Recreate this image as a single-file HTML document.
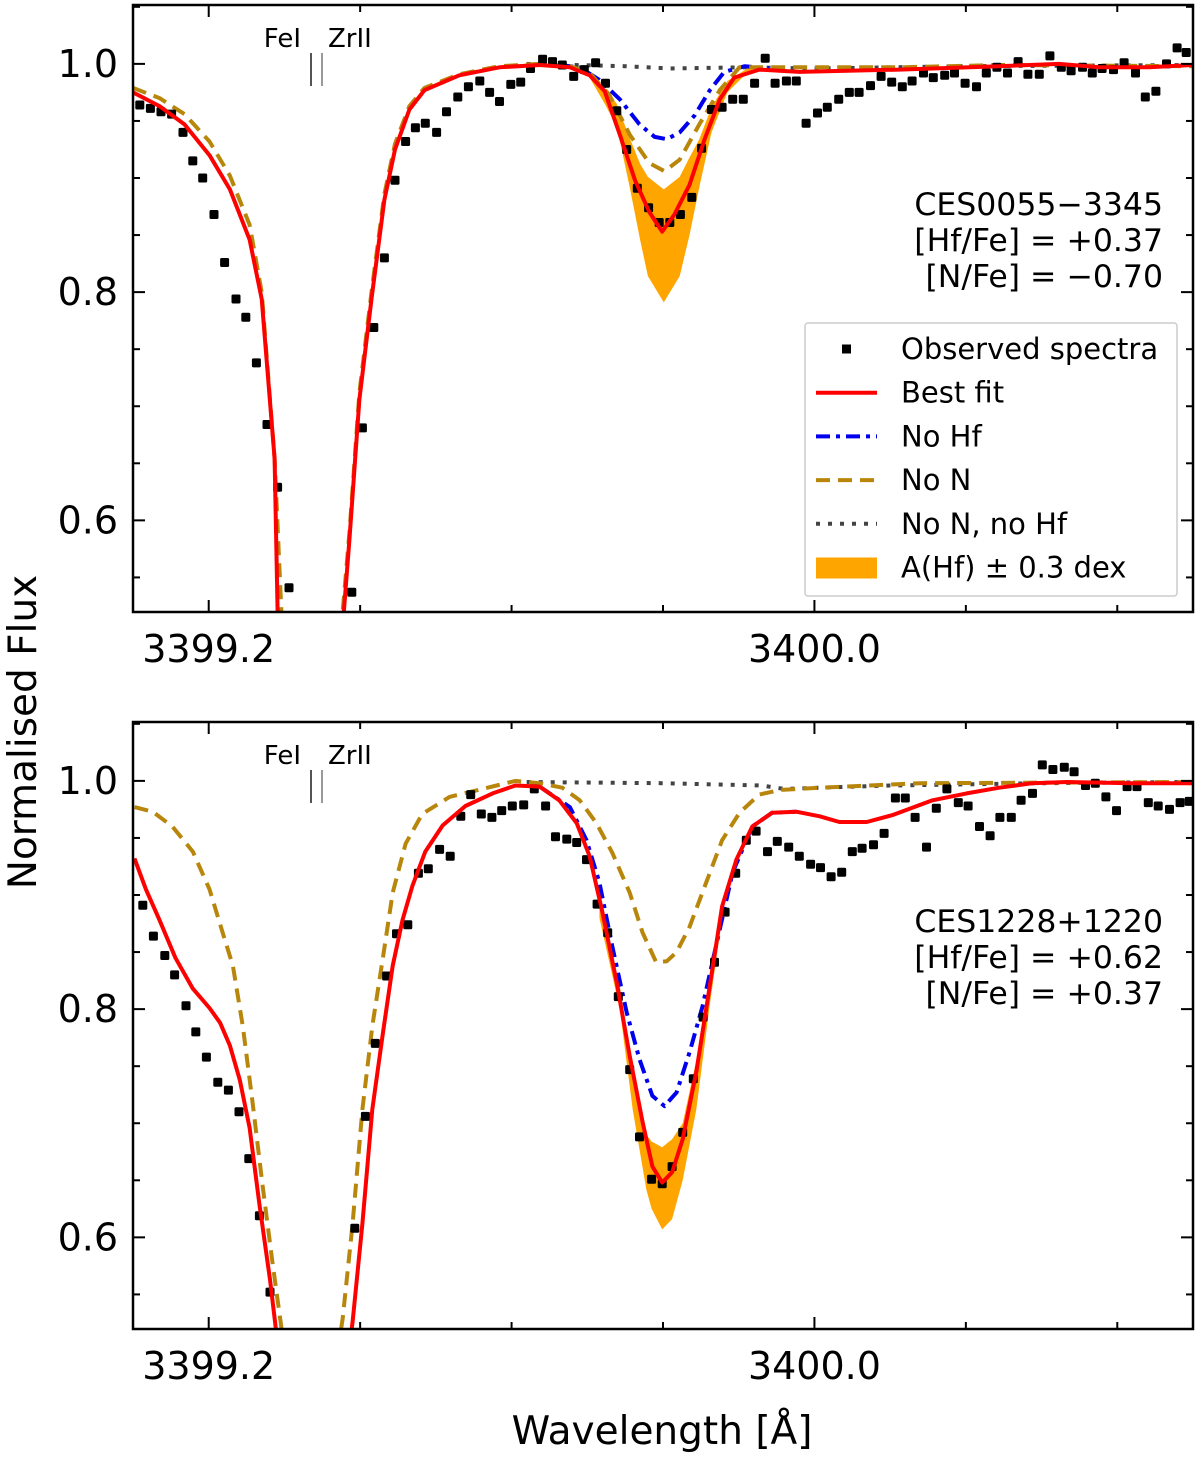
<!DOCTYPE html>
<html><head><meta charset="utf-8"><style>
html,body{margin:0;padding:0;background:#fff;}
svg{display:block;font-family:"DejaVu Sans","Liberation Sans",sans-serif;}
</style></head><body>
<svg id="fig" width="1200" height="1458" viewBox="0 0 1200 1458" xmlns="http://www.w3.org/2000/svg">
<text x="0" y="0" transform="translate(36,732) rotate(-90)" text-anchor="middle" font-size="39">Normalised Flux</text>
<text x="662" y="1444" text-anchor="middle" font-size="39">Wavelength [Å]</text>
</svg>
<script>
// ---------- Top panel (CES0055-3345) ----------
const topObsWl=[3399.109,3399.123,3399.137,3399.151,3399.166,3399.179,3399.192,3399.207,3399.221,3399.236,3399.249,3399.263,3399.277,3399.291,3399.306,3399.389,3399.403,3399.418,3399.432,3399.446,3399.460,3399.473,3399.486,3399.501,3399.514,3399.529,3399.543,3399.558,3399.571,3399.584,3399.599,3399.612,3399.625,3399.641,3399.654,3399.667,3399.682,3399.696,3399.711,3399.724,3399.739,3399.752,3399.766,3399.781,3399.795,3399.809,3399.823,3399.838,3399.851,3399.864,3399.878,3399.892,3399.906,3399.921,3399.935,3399.948,3399.963,3399.976,3399.989,3400.004,3400.017,3400.032,3400.046,3400.059,3400.074,3400.088,3400.102,3400.116,3400.129,3400.144,3400.157,3400.172,3400.185,3400.199,3400.214,3400.227,3400.241,3400.255,3400.269,3400.282,3400.297,3400.311,3400.326,3400.339,3400.354,3400.367,3400.380,3400.395,3400.409,3400.424,3400.437,3400.451,3400.465,3400.479,3400.491];
const topObsFlux=[0.964,0.961,0.958,0.956,0.940,0.915,0.900,0.868,0.826,0.794,0.778,0.738,0.684,0.629,0.541,0.537,0.681,0.769,0.830,0.898,0.932,0.944,0.948,0.940,0.958,0.971,0.980,0.985,0.975,0.967,0.982,0.984,0.996,1.004,1.002,0.999,0.989,0.995,1.001,0.983,0.959,0.925,0.891,0.874,0.861,0.861,0.868,0.883,0.926,0.960,0.962,0.969,0.969,0.983,1.005,0.983,0.985,0.985,0.948,0.957,0.962,0.969,0.975,0.975,0.981,0.989,0.984,0.980,0.985,0.992,0.988,0.990,0.992,0.983,0.980,0.992,0.997,0.992,1.002,0.991,0.991,1.007,0.997,0.994,0.997,0.992,0.996,0.995,1.001,0.992,0.971,0.976,1.000,1.014,1.010];
const topFitWl=[3399.100,3399.135,3399.168,3399.201,3399.228,3399.254,3399.270,3399.287,3399.291,3399.296,3399.375,3399.386,3399.399,3399.415,3399.432,3399.446,3399.465,3399.485,3399.531,3399.584,3399.637,3399.677,3399.703,3399.723,3399.743,3399.763,3399.782,3399.799,3399.815,3399.835,3399.855,3399.875,3399.894,3399.927,3399.980,3400.112,3400.244,3400.323,3400.376,3400.442,3400.499];
const topFitFlux=[0.975,0.963,0.947,0.920,0.890,0.846,0.794,0.654,0.520,0.490,0.490,0.584,0.706,0.794,0.881,0.925,0.960,0.977,0.990,0.997,0.999,0.997,0.990,0.976,0.938,0.898,0.870,0.853,0.868,0.894,0.934,0.969,0.988,0.995,0.993,0.995,0.998,1.000,0.997,0.997,0.999];
const topNoNWl=[3399.100,3399.135,3399.168,3399.201,3399.228,3399.254,3399.270,3399.287,3399.298,3399.373,3399.386,3399.399,3399.415,3399.432,3399.446,3399.465,3399.485,3399.531,3399.584,3399.637,3399.677,3399.703,3399.729,3399.756,3399.782,3399.802,3399.822,3399.848,3399.875,3399.901,3399.980,3400.112,3400.244,3400.499];
const topNoNFlux=[0.979,0.970,0.956,0.932,0.902,0.859,0.800,0.654,0.490,0.490,0.590,0.712,0.800,0.886,0.930,0.963,0.979,0.991,0.998,1.000,0.998,0.992,0.973,0.938,0.913,0.906,0.916,0.947,0.977,0.997,0.997,0.997,0.999,0.998];
const topNoHfWl=[3399.663,3399.690,3399.716,3399.743,3399.769,3399.789,3399.805,3399.822,3399.842,3399.862,3399.881,3399.908,3399.940];
const topNoHfFlux=[0.999,0.997,0.986,0.969,0.947,0.936,0.934,0.940,0.955,0.977,0.993,0.998,0.996];
const topNoneWl=[3399.620,3399.750,3399.810,3399.910,3400.000,3400.200,3400.499];
const topNoneFlux=[1.000,0.998,0.996,0.997,0.996,0.998,0.999];
const topBandWl=[3399.683,3399.703,3399.723,3399.739,3399.756,3399.770,3399.780,3399.801,3399.822,3399.835,3399.848,3399.864,3399.885,3399.914,3399.927];
const topBandHi=[0.998,0.992,0.978,0.965,0.935,0.912,0.901,0.890,0.901,0.918,0.934,0.962,0.985,0.997,0.998];
const topBandLo=[0.998,0.988,0.965,0.945,0.892,0.845,0.814,0.791,0.814,0.850,0.892,0.940,0.975,0.994,0.997];
const topLabels=["CES0055−3345","[Hf/Fe] = +0.37","[N/Fe] = −0.70"];

// ---------- Bottom panel (CES1228+1220) ----------
const botObsWl=[3399.113,3399.127,3399.142,3399.155,3399.170,3399.183,3399.197,3399.212,3399.226,3399.240,3399.253,3399.267,3399.281,3399.393,3399.407,3399.420,3399.435,3399.448,3399.463,3399.477,3399.490,3399.505,3399.519,3399.533,3399.546,3399.560,3399.574,3399.587,3399.601,3399.616,3399.630,3399.645,3399.658,3399.673,3399.686,3399.699,3399.713,3399.727,3399.741,3399.756,3399.769,3399.785,3399.799,3399.812,3399.826,3399.840,3399.853,3399.868,3399.882,3399.896,3399.910,3399.923,3399.938,3399.951,3399.966,3399.980,3399.995,3400.008,3400.022,3400.036,3400.050,3400.063,3400.078,3400.092,3400.107,3400.120,3400.133,3400.148,3400.161,3400.175,3400.190,3400.203,3400.218,3400.232,3400.245,3400.260,3400.273,3400.288,3400.301,3400.315,3400.330,3400.343,3400.358,3400.371,3400.385,3400.399,3400.413,3400.426,3400.441,3400.454,3400.469,3400.483,3400.495];
const botObsFlux=[0.891,0.864,0.847,0.830,0.803,0.780,0.758,0.736,0.729,0.710,0.669,0.619,0.552,0.608,0.706,0.770,0.829,0.866,0.874,0.919,0.923,0.940,0.934,0.969,0.988,0.971,0.968,0.974,0.978,0.979,0.993,0.978,0.951,0.949,0.946,0.931,0.892,0.867,0.811,0.747,0.688,0.651,0.647,0.662,0.692,0.739,0.793,0.841,0.885,0.919,0.948,0.956,0.938,0.947,0.942,0.934,0.927,0.924,0.916,0.920,0.938,0.941,0.944,0.954,0.985,0.985,0.968,0.942,0.976,0.993,0.981,0.978,0.960,0.952,0.968,0.968,0.983,0.989,1.014,1.010,1.012,1.008,0.996,0.998,0.986,0.974,0.995,0.995,0.981,0.978,0.975,0.981,0.982];
const botFitWl=[3399.102,3399.117,3399.135,3399.156,3399.179,3399.201,3399.215,3399.228,3399.241,3399.254,3399.267,3399.281,3399.288,3399.294,3399.383,3399.390,3399.403,3399.416,3399.430,3399.443,3399.456,3399.469,3399.486,3399.509,3399.539,3399.575,3399.605,3399.637,3399.663,3399.686,3399.703,3399.720,3399.739,3399.756,3399.773,3399.786,3399.799,3399.812,3399.826,3399.844,3399.861,3399.878,3399.897,3399.918,3399.944,3399.976,3400.007,3400.033,3400.069,3400.103,3400.156,3400.201,3400.244,3400.288,3400.333,3400.420,3400.499];
const botFitFlux=[0.932,0.905,0.878,0.845,0.818,0.801,0.788,0.768,0.738,0.696,0.629,0.563,0.524,0.490,0.490,0.526,0.612,0.712,0.779,0.838,0.878,0.908,0.938,0.961,0.978,0.989,0.996,0.995,0.983,0.963,0.934,0.885,0.823,0.759,0.701,0.662,0.648,0.657,0.686,0.745,0.817,0.890,0.931,0.960,0.972,0.973,0.969,0.964,0.964,0.970,0.983,0.989,0.994,0.998,0.999,0.998,0.998];
const botNoNWl=[3399.102,3399.126,3399.152,3399.179,3399.201,3399.218,3399.232,3399.245,3399.258,3399.271,3399.284,3399.295,3399.302,3399.368,3399.377,3399.390,3399.403,3399.416,3399.430,3399.443,3399.460,3399.482,3399.518,3399.562,3399.605,3399.637,3399.667,3399.690,3399.712,3399.733,3399.756,3399.773,3399.791,3399.805,3399.818,3399.835,3399.857,3399.878,3399.901,3399.927,3399.954,3400.007,3400.139,3400.499];
const botNoNFlux=[0.977,0.973,0.960,0.938,0.905,0.868,0.838,0.785,0.718,0.646,0.579,0.526,0.490,0.490,0.529,0.612,0.712,0.785,0.845,0.902,0.945,0.971,0.986,0.993,1.000,0.998,0.994,0.983,0.963,0.937,0.902,0.867,0.841,0.842,0.850,0.872,0.911,0.948,0.972,0.988,0.992,0.994,0.998,0.999];
const botNoHfWl=[3399.637,3399.677,3399.699,3399.716,3399.733,3399.752,3399.769,3399.786,3399.802,3399.818,3399.835,3399.852,3399.875,3399.892,3399.918,3399.944,3399.976];
const botNoHfFlux=[0.995,0.977,0.948,0.911,0.855,0.797,0.756,0.724,0.715,0.727,0.762,0.802,0.870,0.920,0.960,0.972,0.973];
const botNoneWl=[3399.620,3399.800,3399.930,3399.960,3400.100,3400.300,3400.499];
const botNoneFlux=[0.999,0.998,0.996,0.993,0.996,0.998,0.999];
const botBandWl=[3399.716,3399.743,3399.760,3399.778,3399.785,3399.799,3399.812,3399.826,3399.844,3399.861,3399.878];
const botBandHi=[0.890,0.820,0.745,0.690,0.684,0.679,0.686,0.700,0.755,0.825,0.895];
const botBandLo=[0.880,0.800,0.712,0.642,0.625,0.607,0.616,0.650,0.712,0.800,0.880];
const botLabels=["CES1228+1220","[Hf/Fe] = +0.62","[N/Fe] = +0.37"];

const xTickMajor=[3399.2,3400.0];
const xTickMajorLabels=["3399.2","3400.0"];
const xTickMinor=[3399.4,3399.6,3399.8,3400.2,3400.4];
const yTickMajor=[0.6,0.8,1.0];
const yTickMajorLabels=["0.6","0.8","1.0"];
const yTickMinor=[0.55,0.65,0.7,0.75,0.85,0.9,0.95,1.05];
const legendLabels=["Observed spectra","Best fit","No Hf","No N","No N, no Hf","A(Hf) ± 0.3 dex"];

const NS="http://www.w3.org/2000/svg";
const svg=document.getElementById('fig');
function mk(tag,attrs,parent){const e=document.createElementNS(NS,tag);for(const k in attrs)e.setAttribute(k,attrs[k]);(parent||svg).appendChild(e);return e;}

const X0=133,X1=1193,XMIN=3399.1,XMAX=3400.5;
function xs(w){return X0+(w-XMIN)/(XMAX-XMIN)*(X1-X0);}

function panel(id,top,d){
  const bottom=top+607;
  const YMIN=0.5197,YMAX=1.0516;
  const ys=f=>bottom-(f-YMIN)/(YMAX-YMIN)*(bottom-top);
  const g=mk('g',{});
  
  
  const cp=mk('clipPath',{id:id+'-clip'},g);
  mk('rect',{x:X0,y:top,width:X1-X0,height:bottom-top},cp);
  const plot=mk('g',{'clip-path':'url(#'+id+'-clip)'},g);
  
  
  let p='';
  d.bandWl.forEach((w,i)=>{p+=(i?'L':'M')+xs(w).toFixed(1)+','+ys(d.bandHi[i]).toFixed(1);});
  for(let i=d.bandWl.length-1;i>=0;i--)p+='L'+xs(d.bandWl[i]).toFixed(1)+','+ys(d.bandLo[i]).toFixed(1);
  const band=mk('path',{d:p+'Z',fill:'#ffa500',stroke:'none'},plot);
  
  
  const line=(wl,fl,st,name)=>{
    const pts=wl.map((w,i)=>xs(w).toFixed(1)+','+ys(fl[i]).toFixed(1)).join(' ');
    const el=mk('polyline',Object.assign({points:pts,fill:'none','stroke-linejoin':'round'},st),plot);
    
    
  };
  line(d.noneWl,d.noneFlux,{stroke:'#444','stroke-width':4,'stroke-dasharray':'4,8'},id+'-no-n-no-hf-line');
  line(d.noHfWl,d.noHfFlux,{stroke:'#0000ee','stroke-width':4,'stroke-dasharray':'14,6,4,6'},id+'-no-hf-line');
  line(d.noNWl,d.noNFlux,{stroke:'#b8860b','stroke-width':4,'stroke-dasharray':'14,8'},id+'-no-n-line');
  d.obsWl.forEach((w,i)=>{
    const r=mk('rect',{x:(xs(w)-4.5).toFixed(1),y:(ys(d.obsFlux[i])-4.5).toFixed(1),width:9,height:9,rx:1.5,fill:'#000'},plot);
    
    
  });
  line(d.fitWl,d.fitFlux,{stroke:'#ff0000','stroke-width':4},id+'-best-fit-line');
  const tk=mk('g',{stroke:'#000','stroke-width':2},g);
  
  
  xTickMajor.forEach((w,i)=>{const x=xs(w);
    mk('line',{x1:x,x2:x,y1:bottom,y2:bottom-12},tk);mk('line',{x1:x,x2:x,y1:top,y2:top+12},tk);
    const t=mk('text',{x:x,y:bottom+50,'text-anchor':'middle','font-size':38},g);t.textContent=xTickMajorLabels[i];
    
    
  });
  xTickMinor.forEach(w=>{const x=xs(w);mk('line',{x1:x,x2:x,y1:bottom,y2:bottom-7},tk);mk('line',{x1:x,x2:x,y1:top,y2:top+7},tk);});
  yTickMajor.forEach((f,i)=>{const y=ys(f);
    mk('line',{x1:X0,x2:X0+12,y1:y,y2:y},tk);mk('line',{x1:X1,x2:X1-12,y1:y,y2:y},tk);
    const t=mk('text',{x:118,y:y+13,'text-anchor':'end','font-size':38},g);t.textContent=yTickMajorLabels[i];
    
    
  });
  yTickMinor.forEach(f=>{const y=ys(f);mk('line',{x1:X0,x2:X0+7,y1:y,y2:y},tk);mk('line',{x1:X1,x2:X1-7,y1:y,y2:y},tk);});
  const fr=mk('rect',{x:X0,y:top,width:X1-X0,height:bottom-top,fill:'none',stroke:'#000','stroke-width':2.5},g);
  
  
  const ly=top+33;
  [['FeI',301,'end'],['ZrII',328,'start']].forEach(a=>{
    const t=mk('text',{x:a[1],y:ly+9,'text-anchor':a[2],'font-size':26},g);t.textContent=a[0];
    
    
  });
  mk('line',{x1:311,x2:311,y1:top+48,y2:top+81,stroke:'#555','stroke-width':2},g);
  mk('line',{x1:322,x2:322,y1:top+48,y2:top+81,stroke:'#999','stroke-width':2},g);
  d.labels.forEach((s,i)=>{
    const t=mk('text',{x:1163,y:top+210+i*36,'text-anchor':'end','font-size':31.5},g);t.textContent=s;
    
    
  });
  return ys;
}

panel('top',5,{obsWl:topObsWl,obsFlux:topObsFlux,fitWl:topFitWl,fitFlux:topFitFlux,noNWl:topNoNWl,noNFlux:topNoNFlux,noHfWl:topNoHfWl,noHfFlux:topNoHfFlux,noneWl:topNoneWl,noneFlux:topNoneFlux,bandWl:topBandWl,bandHi:topBandHi,bandLo:topBandLo,labels:topLabels});
panel('bottom',722,{obsWl:botObsWl,obsFlux:botObsFlux,fitWl:botFitWl,fitFlux:botFitFlux,noNWl:botNoNWl,noNFlux:botNoNFlux,noHfWl:botNoHfWl,noHfFlux:botNoHfFlux,noneWl:botNoneWl,noneFlux:botNoneFlux,bandWl:botBandWl,bandHi:botBandHi,bandLo:botBandLo,labels:botLabels});

const lg=mk('g',{});


mk('rect',{x:805,y:323,width:372,height:273,fill:'#fff','fill-opacity':0.9,stroke:'#ccc','stroke-width':1.5,rx:3},lg);
legendLabels.forEach((s,i)=>{
  const y=349+i*43.7;
  const e=mk('g',{},lg);
  
  
  if(i===0)mk('rect',{x:842,y:y-4.5,width:9,height:9,fill:'#000'},e);
  if(i===1)mk('line',{x1:816,x2:877,y1:y,y2:y,stroke:'#ff0000','stroke-width':4},e);
  if(i===2)mk('line',{x1:816,x2:877,y1:y,y2:y,stroke:'#0000ee','stroke-width':4,'stroke-dasharray':'14,6,4,6'},e);
  if(i===3)mk('line',{x1:816,x2:877,y1:y,y2:y,stroke:'#b8860b','stroke-width':4,'stroke-dasharray':'14,8'},e);
  if(i===4)mk('line',{x1:816,x2:877,y1:y,y2:y,stroke:'#444','stroke-width':4,'stroke-dasharray':'4,8'},e);
  if(i===5)mk('rect',{x:816,y:y-10,width:61,height:21,fill:'#ffa500'},e);
  const t=mk('text',{x:901,y:y+10,'font-size':29},e);t.textContent=s;
});
</script>
</body></html>
